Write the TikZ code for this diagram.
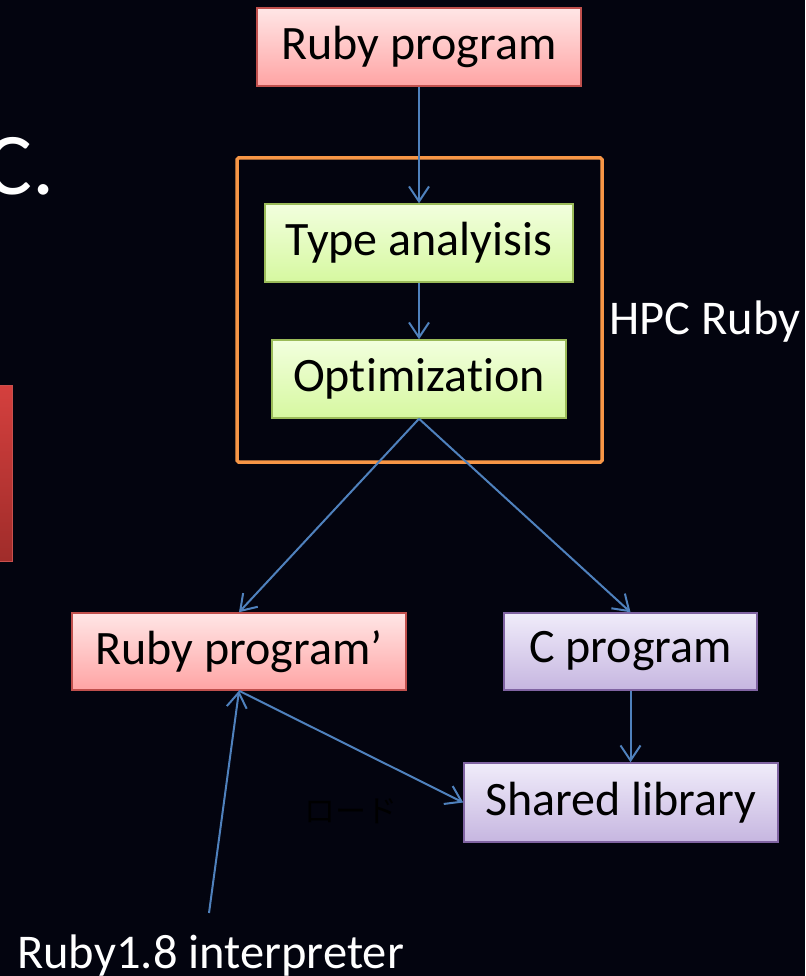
\documentclass[tikz,border=0pt]{standalone}
\usepackage{fontspec}
\setmainfont{Carlito}[Ligatures={NoCommon}]
\newfontfamily\jpfont{Noto Sans CJK JP}
\usetikzlibrary{arrows.meta}
\definecolor{bg}{HTML}{03040F}
\definecolor{conncol}{HTML}{4F81BD}
\definecolor{pinkedge}{HTML}{C0504D}
\definecolor{pinktop}{HTML}{FFE6E6}
\definecolor{pinkbot}{HTML}{FFA4A4}
\definecolor{greenedge}{HTML}{9BBB59}
\definecolor{greentop}{HTML}{F2FFDE}
\definecolor{greenbot}{HTML}{D6F8A0}
\definecolor{purpleedge}{HTML}{8064A2}
\definecolor{purpletop}{HTML}{F0ECFA}
\definecolor{purplebot}{HTML}{C6B6E0}
\definecolor{orangeedge}{HTML}{F79646}
\begin{document}
\begin{tikzpicture}[x=1pt,y=-1pt,
  boxbase/.style={rectangle, inner sep=0pt, line width=1.5pt, text=black,
    font=\fontsize{48}{56}\selectfont},
  pinkbox/.style={boxbase, draw=pinkedge, top color=pinktop, bottom color=pinkbot},
  greenbox/.style={boxbase, draw=greenedge, top color=greentop, bottom color=greenbot},
  purplebox/.style={boxbase, draw=purpleedge, top color=purpletop, bottom color=purplebot},
  whitetext/.style={inner sep=0pt, text=white, font=\fontsize{48.5}{56}\selectfont},
  conn/.style={draw=conncol, line width=2pt, -{Straight Barb[length=15pt,width=20pt,line width=2pt]}}
]
\fill[bg] (0,0) rectangle (805,976);
\useasboundingbox (0,0) rectangle (805,976);

% partial slide text and bar on the left
\node[inner sep=0pt, text=white, font=\fontsize{88}{100}\selectfont, anchor=base east] (cdot) at (55,195) {C.};
\shade[top color={rgb,255:red,212;green,64;blue,62}, bottom color={rgb,255:red,160;green,44;blue,42}, draw={rgb,255:red,200;green,80;blue,77}, line width=1pt] (-3,385) rectangle (12,561);

% HPC Ruby frame
\draw[orangeedge, line width=3.5pt, rounded corners=1.5pt] (237,158) rectangle (602,462);
\node[whitetext, anchor=west] (hpc) at (609,322) {HPC Ruby};

% boxes
\node[pinkbox, minimum width=324pt, minimum height=78pt] (rp) at (419,47) {Ruby program};
\node[greenbox, minimum width=308pt, minimum height=78pt] (ta) at (419,243) {Type analyisis};
\node[greenbox, minimum width=294pt, minimum height=78pt] (opt) at (419,379) {Optimization};
\node[pinkbox, minimum width=334pt, minimum height=77pt] (rpp) at (239,651.5) {Ruby program’};
\node[purplebox, minimum width=253pt, minimum height=77pt] (cp) at (630.5,651.5) {C program};
\node[purplebox, minimum width=314pt, minimum height=79pt] (sl) at (621,802.5) {Shared library};

% labels
\node[whitetext, anchor=base west] (interp) at (17,968) {Ruby1.8 interpreter};
\node[inner sep=0pt, text=black, font=\jpfont\fontsize{31}{36}\selectfont] (load) at (351,811) {ロード};
\coordinate (interptop) at (209,913);

% connectors
\draw[conn] (rp.south) -- (ta.north);
\draw[conn] (ta.south) -- (opt.north);
\draw[conn] (opt.south) -- (rpp.north);
\draw[conn] (opt.south) -- (cp.north);
\draw[conn] (cp.south) -- (cp.south |- sl.north);
\draw[conn] (rpp.south) -- (sl.west);
\draw[conn] (interptop) -- (rpp.south);
\end{tikzpicture}
\end{document}
